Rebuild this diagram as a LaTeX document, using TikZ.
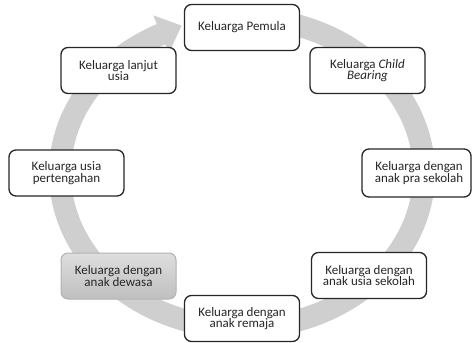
\documentclass[tikz,border=0pt]{standalone}
\usepackage{fontspec}
\setmainfont{Carlito}
\usetikzlibrary{calc}
\tikzset{
  stagebox/.style={draw=black!85, line width=1.3pt, rounded corners=7pt, fill=white,
    minimum width=115pt, minimum height=46pt, inner sep=0pt, align=center,
    text=black!85, font=\fontsize{13}{11.5}\selectfont},
  greybox/.style={stagebox, draw=black!30, line width=1pt, top color=black!13, bottom color=black!25},
  band/.style={draw=black!19, line width=22pt, line cap=butt},
  bandhead/.style={fill=black!19, draw=none}
}
\begin{document}
\begin{tikzpicture}[x=1pt,y=-1pt]
\useasboundingbox (0,0) rectangle (472,343);
\coordinate (C) at (242,173);
% circular band
\draw[band] (C) ++(-85:182 and 155) arc[start angle=-85, end angle=243.8, x radius=182, y radius=155];
\coordinate (B) at ($(C)+(243.6:182 and 155)$);
\coordinate (T) at (181.6,25.6);
\coordinate (U) at (153.3,15.4);
\coordinate (L) at (168.9,53.0);
\fill[bandhead] (U) -- (T) -- (L) -- cycle;
% stages
\node[stagebox] (p1) at (242,27.5) {Keluarga Pemula};
\node[stagebox] (p2) at (367.5,70.5) {Keluarga \textit{Child}\\\textit{Bearing}};
\node[stagebox, minimum width=109pt, minimum height=48pt] (p3) at (416.5,173) {\hspace*{5pt}Keluarga dengan\\\hspace*{5pt}anak pra sekolah};
\node[stagebox] (p4) at (369,275.5) {Keluarga dengan\\anak usia sekolah};
\node[stagebox] (p5) at (242,318.5) {Keluarga dengan\\anak remaja};
\node[greybox] (p6) at (118.5,276) {Keluarga dengan\\anak dewasa};
\node[stagebox] (p7) at (66.5,173) {Keluarga usia\\pertengahan};
\node[stagebox] (p8) at (118.5,70.5) {Keluarga lanjut\\usia};
\end{tikzpicture}
\end{document}
